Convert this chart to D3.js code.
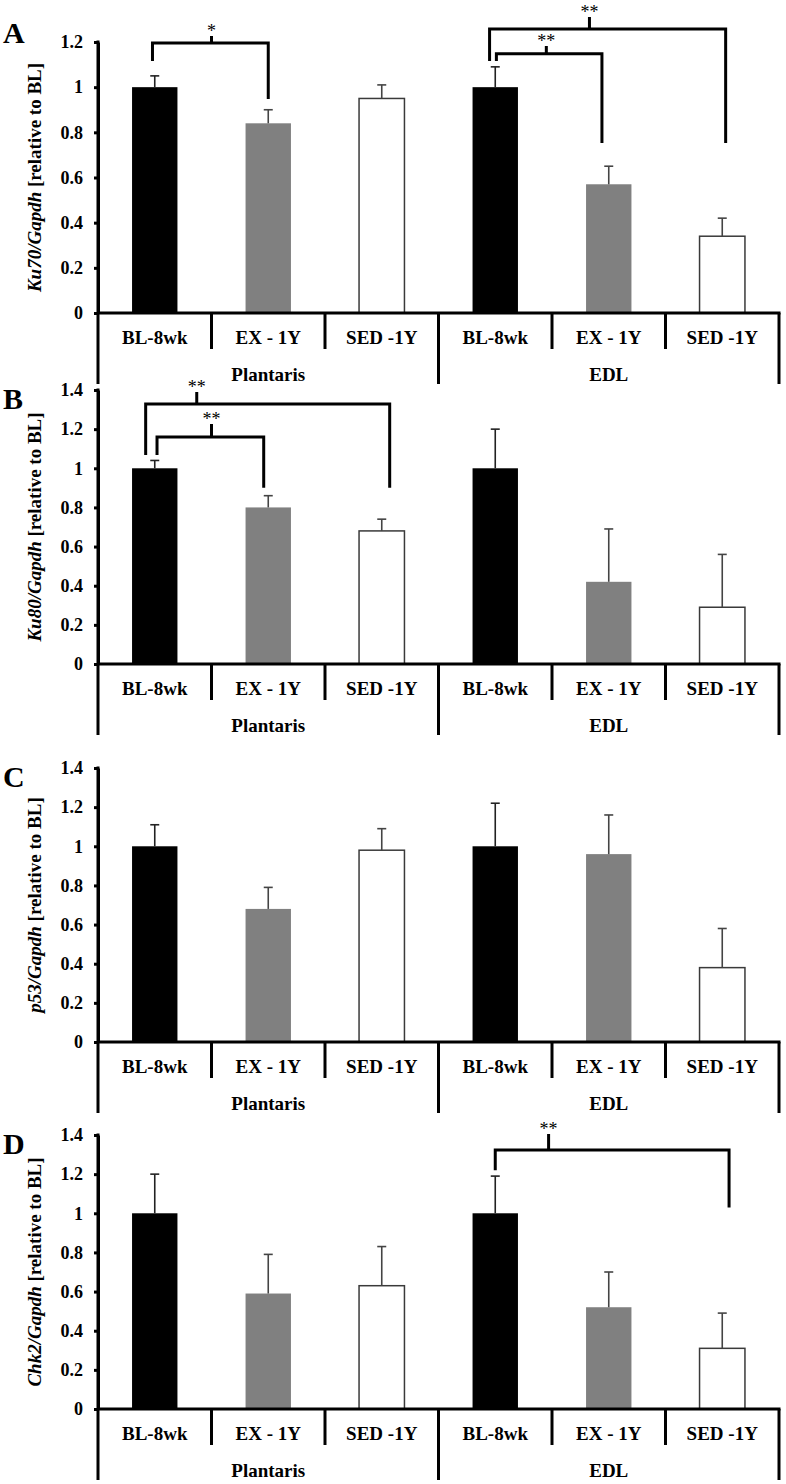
<!DOCTYPE html>
<html lang="en">
<head>
  <meta charset="UTF-8">
  <title>Ku70 Ku80 p53 Chk2</title>
  <script src="https://cdn.jsdelivr.net/npm/d3@7"></script>
  <style>
    body { margin: 0; background: #fff; }
    svg { display: block; font-family: "Liberation Serif", "Times New Roman", serif; }
  </style>
</head>
<body>
<svg id="chart"></svg>
<script>
  // categories / groups
  const categories = ["BL-8wk", "EX - 1Y", "SED -1Y", "BL-8wk", "EX - 1Y", "SED -1Y"];
  const groups = ["Plantaris", "EDL"];
  const barColors = ["#000", "#808080", "#fff"];

  // values (mean, upper error)
  const ku70Mean = [1.00, 0.84, 0.95, 1.00, 0.57, 0.34];
  const ku70Err  = [0.05, 0.06, 0.06, 0.09, 0.08, 0.08];
  const ku80Mean = [1.00, 0.80, 0.68, 1.00, 0.42, 0.29];
  const ku80Err  = [0.04, 0.06, 0.06, 0.20, 0.27, 0.27];
  const p53Mean  = [1.00, 0.68, 0.98, 1.00, 0.96, 0.38];
  const p53Err   = [0.11, 0.11, 0.11, 0.22, 0.20, 0.20];
  const chk2Mean = [1.00, 0.59, 0.63, 1.00, 0.52, 0.31];
  const chk2Err  = [0.20, 0.20, 0.20, 0.19, 0.18, 0.18];

  // tick labels
  const ticks12 = ["0", "0.2", "0.4", "0.6", "0.8", "1", "1.2"];
  const ticks14 = ["0", "0.2", "0.4", "0.6", "0.8", "1", "1.2", "1.4"];

  // significance brackets: legs at category positions, heights in data units
  const ku70Sig = [
    { a: -0.02, b: 1.0, mid: 0.5, top: 1.196, la: 1.116, lb: 0.948, tick: 1.227, label: "*" },
    { a: 2.95, b: 5.03, mid: 3.83, top: 1.258, la: 1.116, lb: 0.753, tick: 1.311, label: "**" },
    { a: 3.01, b: 3.94, mid: 3.45, top: 1.148, la: 1.116, lb: 0.753, tick: 1.182, label: "**" },
  ];
  const ku80Sig = [
    { a: -0.08, b: 2.07, mid: 0.37, top: 1.329, la: 1.068, lb: 0.90, tick: 1.39, label: "**" },
    { a: 0.02, b: 0.96, mid: 0.5, top: 1.16, la: 1.068, lb: 0.90, tick: 1.226, label: "**" },
  ];
  const p53Sig = [];
  const chk2Sig = [
    { a: 3.0, b: 5.06, mid: 3.47, top: 1.323, la: 1.22, lb: 1.03, tick: 1.405, label: "**" },
  ];

  const W = 786, H = 1484;
  const x0 = 98, x1 = 779;

  const svg = d3.select('#chart').attr('width', W).attr('height', H);

  const x = d3.scaleBand().domain(d3.range(categories.length))
    .range([x0, x1]).paddingInner(0.6).paddingOuter(0.3);
  const xPos = d3.scaleLinear().domain([-0.5, categories.length - 0.5]).range([x0, x1]);

  const panels = [
    { letter: "A", gene: "Ku70", mean: ku70Mean, err: ku70Err, ticks: ticks12, max: 1.2, top: 42, zero: 313, letterY: 43, sig: ku70Sig },
    { letter: "B", gene: "Ku80", mean: ku80Mean, err: ku80Err, ticks: ticks14, max: 1.4, top: 390, zero: 664, letterY: 409, sig: ku80Sig },
    { letter: "C", gene: "p53", mean: p53Mean, err: p53Err, ticks: ticks14, max: 1.4, top: 768, zero: 1042, letterY: 787, sig: p53Sig },
    { letter: "D", gene: "Chk2", mean: chk2Mean, err: chk2Err, ticks: ticks14, max: 1.4, top: 1135, zero: 1409, letterY: 1154, sig: chk2Sig },
  ];

  panels.forEach(p => {
    const g = svg.append('g');
    const y = d3.scaleLinear().domain([0, p.max]).range([p.zero, p.top]);

    // bars
    g.selectAll('rect.bar')
      .data(p.mean)
      .join('rect')
      .attr('class', 'bar')
      .attr('x', (d, i) => x(i))
      .attr('width', x.bandwidth())
      .attr('y', d => y(d))
      .attr('height', d => y(0) - y(d))
      .attr('fill', (d, i) => barColors[i % 3])
      .attr('stroke', (d, i) => i % 3 === 2 ? '#3a3a3a' : 'none')
      .attr('stroke-width', 1.5);

    // error bars (upper only)
    const eb = g.selectAll('g.err')
      .data(p.mean)
      .join('g')
      .attr('class', 'err')
      .attr('stroke', (d, i) => i % 3 === 0 ? '#222' : '#444')
      .attr('stroke-width', 1.6);
    eb.append('line')
      .attr('x1', (d, i) => x(i) + x.bandwidth() / 2)
      .attr('x2', (d, i) => x(i) + x.bandwidth() / 2)
      .attr('y1', d => y(d))
      .attr('y2', (d, i) => y(d + p.err[i]));
    eb.append('line')
      .attr('x1', (d, i) => x(i) + x.bandwidth() / 2 - 4.5)
      .attr('x2', (d, i) => x(i) + x.bandwidth() / 2 + 4.5)
      .attr('y1', (d, i) => y(d + p.err[i]))
      .attr('y2', (d, i) => y(d + p.err[i]));

    // y axis
    const tickVals = p.ticks.map(Number);
    const yAxis = g.append('g')
      .attr('transform', `translate(${x0},0)`)
      .call(d3.axisLeft(y).tickValues(tickVals).tickFormat((d, i) => p.ticks[i])
        .tickSize(4).tickSizeOuter(0).tickPadding(11));
    yAxis.select('.domain').attr('stroke', '#000').attr('stroke-width', 3);
    yAxis.selectAll('.tick line').attr('stroke', '#000').attr('stroke-width', 3);
    yAxis.selectAll('.tick text')
      .attr('fill', '#000')
      .style('font-family', '"Liberation Serif", serif')
      .style('font-size', '18px')
      .style('font-weight', 'bold');

    // x baseline
    g.append('line')
      .attr('x1', x0).attr('x2', x1 + 1.5)
      .attr('y1', p.zero).attr('y2', p.zero)
      .attr('stroke', '#000').attr('stroke-width', 3);

    // category separators
    g.selectAll('line.sep')
      .data(d3.range(categories.length + 1))
      .join('line')
      .attr('class', 'sep')
      .attr('x1', d => xPos(d - 0.5))
      .attr('x2', d => xPos(d - 0.5))
      .attr('y1', d => d === 0 ? p.top - 1.5 : p.zero)
      .attr('y2', d => p.zero + (d % 3 === 0 ? 71 : 36))
      .attr('stroke', '#000').attr('stroke-width', 3);

    // category labels
    g.selectAll('text.cat')
      .data(categories)
      .join('text')
      .attr('class', 'cat')
      .attr('x', (d, i) => x(i) + x.bandwidth() / 2)
      .attr('y', p.zero + 31)
      .attr('text-anchor', 'middle')
      .style('font-size', '19px')
      .style('font-weight', 'bold')
      .text(d => d);

    // group labels
    g.selectAll('text.grp')
      .data(groups)
      .join('text')
      .attr('class', 'grp')
      .attr('x', (d, i) => xPos(i * 3 + 1))
      .attr('y', p.zero + 68)
      .attr('text-anchor', 'middle')
      .style('font-size', '19px')
      .style('font-weight', 'bold')
      .text(d => d);

    // y label
    const yl = g.append('text')
      .attr('transform', `translate(41,${(p.top + p.zero) / 2}) rotate(-90)`)
      .attr('text-anchor', 'middle')
      .style('font-size', '19px')
      .style('font-weight', 'bold');
    yl.append('tspan').style('font-style', 'italic').text(`${p.gene}/Gapdh`);
    yl.append('tspan').text(' [relative to BL]');

    // panel letter
    g.append('text')
      .attr('x', 3).attr('y', p.letterY)
      .style('font-size', '30px')
      .style('font-weight', 'bold')
      .text(p.letter);

    // significance brackets
    const sg = g.selectAll('g.sig')
      .data(p.sig)
      .join('g')
      .attr('class', 'sig');
    sg.append('path')
      .attr('d', d => `M${xPos(d.a)},${y(d.la)}V${y(d.top)}H${xPos(d.b)}V${y(d.lb)}M${xPos(d.mid)},${y(d.top)}V${y(d.tick)}`)
      .attr('fill', 'none')
      .attr('stroke', '#000')
      .attr('stroke-width', 3);
    sg.append('text')
      .attr('x', d => xPos(d.mid))
      .attr('y', d => y(d.tick) + 1)
      .attr('text-anchor', 'middle')
      .style('font-size', '18px')
      .text(d => d.label);
  });
</script>
</body>
</html>
